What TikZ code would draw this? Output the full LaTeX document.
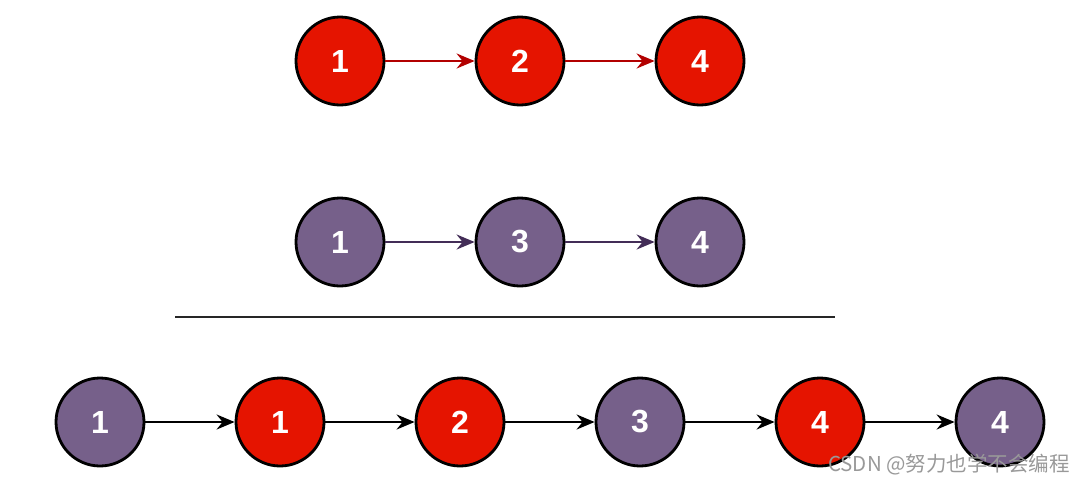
\documentclass[tikz,border=0pt]{standalone}
\usepackage{fontspec}
\setmainfont{Liberation Sans}
\newfontfamily\cjk{Noto Sans CJK SC}
\usetikzlibrary{arrows.meta}
\definecolor{redfill}{HTML}{E51400}
\definecolor{redline}{HTML}{B20000}
\definecolor{purfill}{HTML}{76608A}
\definecolor{purline}{HTML}{432D57}
\begin{document}
\begin{tikzpicture}[x=1pt,y=-1pt,
  rnode/.style={circle,draw=black,line width=2.8pt,fill=redfill,minimum size=88pt,inner sep=0pt,text=white,font=\fontsize{32}{32}\selectfont\bfseries},
  pnode/.style={rnode,fill=purfill},
  conn/.style={line width=2.3pt,-{Stealth[length=18pt,width=15pt,inset=6pt]}}]
\useasboundingbox (0,0) rectangle (1074,482);
% top row
\node[rnode] (a1) at (340,61) {1};
\node[rnode] (a2) at (520,61) {2};
\node[rnode] (a3) at (700,61) {4};
\draw[conn,redline] (a1) -- (a2);
\draw[conn,redline] (a2) -- (a3);
% middle row
\node[pnode] (b1) at (340,242) {1};
\node[pnode] (b2) at (520,242) {3};
\node[pnode] (b3) at (700,242) {4};
\draw[conn,purline] (b1) -- (b2);
\draw[conn,purline] (b2) -- (b3);
% separator
\coordinate (s1) at (175,317);
\coordinate (s2) at (835,317);
\draw[line width=2.5pt,black!85] (s1) -- (s2);
% bottom row
\node[pnode] (c1) at (100,422) {1};
\node[rnode] (c2) at (280,422) {1};
\node[rnode] (c3) at (460,422) {2};
\node[pnode] (c4) at (640,422) {3};
\node[rnode] (c5) at (820,422) {4};
\node[pnode] (c6) at (1000,422) {4};
\foreach \i/\j in {c1/c2,c2/c3,c3/c4,c4/c5,c5/c6}
  \draw[conn,black] (\i) -- (\j);
\node[text=black!40,font=\cjk\fontsize{20.5}{20.5}\selectfont,anchor=east,inner sep=0pt] (wm) at (1070,465) {CSDN @努力也学不会编程};
\end{tikzpicture}
\end{document}
